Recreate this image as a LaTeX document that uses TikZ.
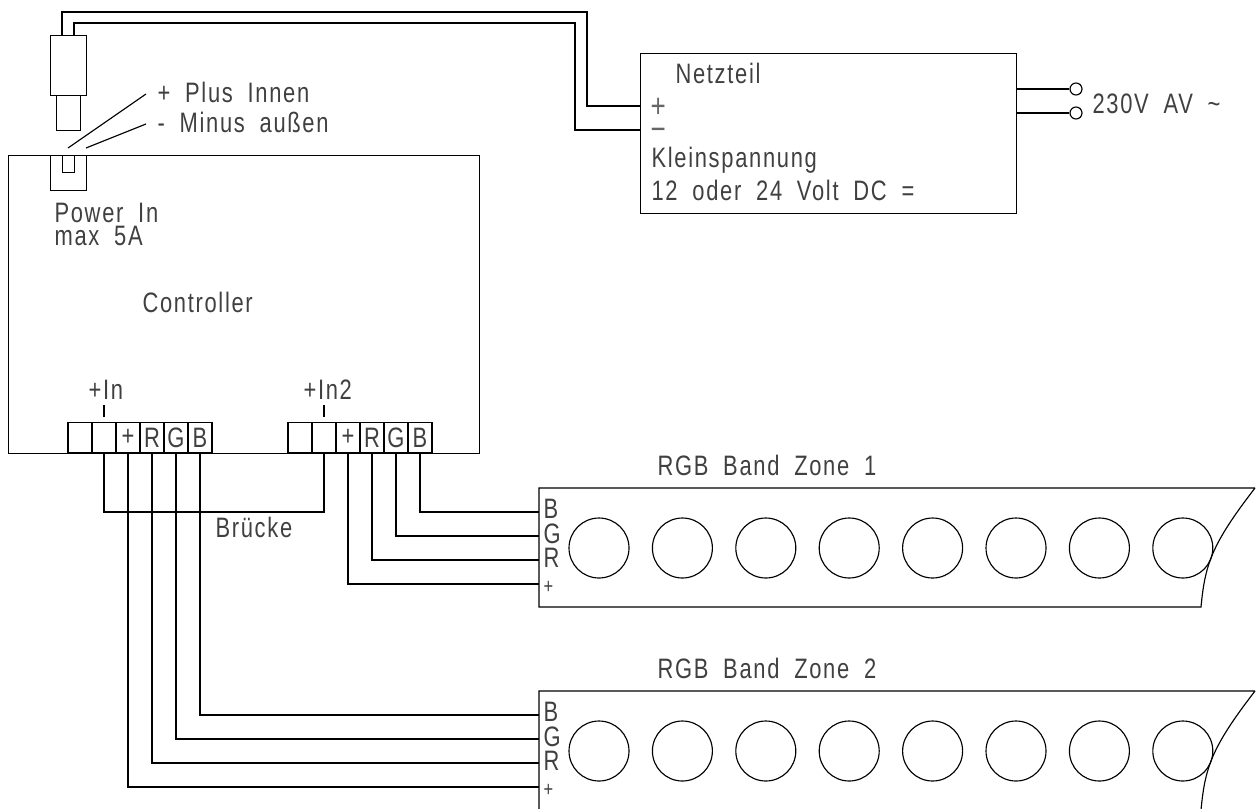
\documentclass[tikz,border=0pt]{standalone}
\usepackage{fontspec}
\setmainfont[FakeStretch=0.78,LetterSpace=6,WordSpace=1.9]{Liberation Sans}
\usetikzlibrary{positioning}
\begin{document}
\begin{tikzpicture}[
    x=0.02cm,y=-0.02cm,
    line width=.65pt,
    box/.style={draw,inner sep=0pt,anchor=north west},
    txt/.style={inner sep=0pt,anchor=base west,text=black!75,font=\fontsize{16}{16}\selectfont},
    bigsign/.style={txt,text=black!60,font=\fontsize{19}{19}\selectfont},
    term/.style={draw,inner sep=0pt,minimum width=0.48cm,minimum height=0.61cm,text=black!75,font=\fontsize{16}{16}\selectfont},
    led/.style={draw,circle,inner sep=0pt,minimum size=1.2cm},
    pole/.style={draw,circle,inner sep=0pt,minimum size=0.24cm}]

    \useasboundingbox (0,0) rectangle (1256,808);
    \clip (0,0) rectangle (1256,808);

    % plug and controller
    \node[box,minimum width=0.72cm,minimum height=1.2cm] (plug) at (50,35) {};
    \node[box,minimum width=0.48cm,minimum height=0.7cm] (tip) at (56,95) {};
    \node[box,minimum width=9.42cm,minimum height=5.96cm] (ctrl) at (8,155) {};
    \node[box,minimum width=0.72cm,minimum height=0.7cm] (socket) at (50,155) {};
    \node[box,minimum width=0.24cm,minimum height=0.34cm] (pin) at (62,155) {};

    \node[txt] (plus) at (157,102) {+ Plus Innen};
    \node[txt] (minus) at (157,132) {- Minus außen};
    \coordinate (pinin) at (68,148);
    \coordinate (pinout) at (86,148);
    \coordinate (plusend) at (146,94);
    \coordinate (minusend) at (146,124);
    \draw (pinin) -- (plusend);
    \draw (pinout) -- (minusend);

    \node[txt] (power) at (54,222) {Power In};
    \node[txt] (maxa) at (54,245) {max 5A};
    \node[txt] (ctrltxt) at (142,312) {Controller};

    % power supply
    \node[box,minimum width=7.52cm,minimum height=3.2cm] (psu) at (640,53) {};
    \node[txt] (psutxt) at (675,83) {Netzteil};
    \node[bigsign] (psup) at (650,117) {+};
    \node[bigsign] (psum) at (650,140) {−};
    \node[txt] (low) at (651,167) {Kleinspannung};
    \node[txt] (volt) at (651,200) {12 oder 24 Volt DC =};
    \coordinate (psuin1) at (640,106);
    \coordinate (psuin2) at (640,130);
    \coordinate (psuout1) at (1016,89);
    \coordinate (psuout2) at (1016,113);
    \node[pole] (ac1) at (1076,89) {};
    \node[pole] (ac2) at (1076,113) {};
    \node[txt] (actxt) at (1092,113) {230V AV \textasciitilde};
    \draw (psuout1) -- (ac1);
    \draw (psuout2) -- (ac2);

    % cable
    \coordinate (plugl) at (62,35);
    \coordinate (plugr) at (74,35);
    \draw (plugl) -- (62,12) -- (587,12) |- (psuin1);
    \draw (plugr) -- (74,23) -- (575,23) |- (psuin2);

    % terminals
    \foreach \i/\t in {1/,2/,3/+,4/R,5/G,6/B} {
        \node[term] (a\i) at ({80+24*(\i-1)},437.5) {\t};
        \node[term] (b\i) at ({300+24*(\i-1)},437.5) {\t};
    }
    \node[txt] (inone) at (88,399) {+In};
    \node[txt] (intwo) at (303,399) {+In2};
    \coordinate (tickone) at (104,417);
    \coordinate (ticktwo) at (324,417);
    \draw (tickone) -- (104,405);
    \draw (ticktwo) -- (324,405);

    % bands
    \foreach \z/\y in {1/0,2/203} {
        \node[txt] (zone\z) at (657,{475+\y}) {RGB Band Zone \z};
        \draw (1255,{488+\y}) -- (539,{488+\y}) -- (539,{607+\y}) -- (1201,{607+\y})
            .. controls (1205,{565+\y}) and (1211,{545+\y}) .. (1255,{488+\y});
        \foreach \n in {0,...,7}
            \node[led] (led\z\n) at ({599+83.4*\n},{548+\y}) {};
        \node[txt] (lb\z) at (543,{518+\y}) {B};
        \node[txt] (lg\z) at (543,{543+\y}) {G};
        \node[txt] (lr\z) at (543,{567+\y}) {R};
        \node[txt,font=\fontsize{12}{12}\selectfont] (lp\z) at (543,{593+\y}) {+};
        \coordinate (zb\z) at (539,{512+\y});
        \coordinate (zg\z) at (539,{536+\y});
        \coordinate (zr\z) at (539,{560+\y});
        \coordinate (zp\z) at (539,{584+\y});
    }

    % wires
    \draw (a2.south) -- (104,512) -- (324,512) -- (b2.south);
    \node[txt] (bridge) at (215,537) {Brücke};
    \draw (a3.south) |- (zp2);
    \draw (a4.south) |- (zr2);
    \draw (a5.south) |- (zg2);
    \draw (a6.south) |- (zb2);
    \draw (b3.south) |- (zp1);
    \draw (b4.south) |- (zr1);
    \draw (b5.south) |- (zg1);
    \draw (b6.south) |- (zb1);

\end{tikzpicture}
\end{document}
